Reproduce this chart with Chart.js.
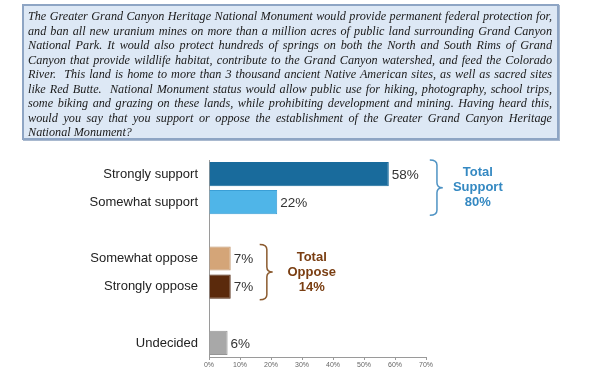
<!DOCTYPE html>
<html>
<head>
<meta charset="utf-8">
<script src="https://cdn.jsdelivr.net/npm/chart.js@4.4.1/dist/chart.umd.min.js"></script>
<style>
  html, body { margin: 0; padding: 0; background: #fff; width: 589px; height: 380px; overflow: hidden; }
  #wrap { position: relative; width: 589px; height: 380px; }
  #chart { position: absolute; left: 0; top: 0; }
  #question {
    position: absolute; left: 22px; top: 4px;
    background: #dde8f5; border: 2px solid #8ea5c4;
    box-shadow: 1px 1px 0 #a9b9cf;
    font-family: "Liberation Serif", "Times New Roman", serif; font-style: italic;
    font-size: 12.2px; line-height: 14.5px; color: #1a1a1a;
    padding: 3px 5px 0 4px; box-sizing: border-box; width: 537px; height: 136px;
  }
  #question div { white-space: nowrap; text-align: justify; text-align-last: justify; }
  #question div.last { text-align-last: left; }
</style>
</head>
<body>
<div id="wrap">
  <canvas id="chart" width="589" height="380"></canvas>
  <div id="question">
    <div>The Greater Grand Canyon Heritage National Monument would provide permanent federal protection for,</div>
    <div>and ban all new uranium mines on more than a million acres of public land surrounding Grand Canyon</div>
    <div>National Park. It would also protect hundreds of springs on both the North and South Rims of Grand</div>
    <div>Canyon that provide wildlife habitat, contribute to the Grand Canyon watershed, and feed the Colorado</div>
    <div>River.&nbsp; This land is home to more than 3 thousand ancient Native American sites, as well as sacred sites</div>
    <div>like Red Butte.&nbsp; National Monument status would allow public use for hiking, photography, school trips,</div>
    <div>some biking and grazing on these lands, while prohibiting development and mining. Having heard this,</div>
    <div>would you say that you support or oppose the establishment of the Greater Grand Canyon Heritage</div>
    <div class="last">National Monument?</div>
  </div>
</div>
<script>
const categories = ['Strongly support', 'Somewhat support', '', 'Somewhat oppose', 'Strongly oppose', '', 'Undecided'];
const values = [58, 22, null, 7, 7, null, 6];
const barColors = ['#196b9c', '#4fb5e8', null, '#d4a578', '#5b2a0c', null, '#a8a8a8'];
const barBorders = ['#196b9c', '#3a9fd6', null, '#c0926a', '#4a2008', null, '#959595'];
const xTicks = [0, 10, 20, 30, 40, 50, 60, 70];
const groupLabels = [
  { lines: ['Total', 'Support', '80%'], from: 0, to: 1, color: '#3589c2', braceColor: '#4f93c4', gap: 41, textOffset: 48 },
  { lines: ['Total', 'Oppose', '14%'], from: 3, to: 4, color: '#7a3e12', braceColor: '#8b5a2e', gap: 29, textOffset: 52 }
];

const FONT = '"Liberation Sans", Arial, sans-serif';

const valueLabels = {
  id: 'valueLabels',
  afterDatasetsDraw(chart) {
    const ctx = chart.ctx;
    const meta = chart.getDatasetMeta(0);
    ctx.save();
    ctx.font = '13.5px ' + FONT;
    ctx.fillStyle = '#333333';
    ctx.textBaseline = 'middle';
    ctx.textAlign = 'left';
    meta.data.forEach((bar, i) => {
      if (values[i] == null) return;
      ctx.fillText(values[i] + '%', bar.x + 3, bar.y + 1);
    });
    ctx.restore();
  }
};

function drawBrace(ctx, x, yTop, yBot, w) {
  const mid = (yTop + yBot) / 2;
  const xm = x + w * 0.55;
  const r = 5;
  ctx.beginPath();
  ctx.moveTo(x, yTop);
  ctx.quadraticCurveTo(xm, yTop, xm, yTop + r);
  ctx.lineTo(xm, mid - r);
  ctx.quadraticCurveTo(xm, mid, x + w, mid);
  ctx.quadraticCurveTo(xm, mid, xm, mid + r);
  ctx.lineTo(xm, yBot - r);
  ctx.quadraticCurveTo(xm, yBot, x, yBot);
  ctx.stroke();
}

const groupBraces = {
  id: 'groupBraces',
  afterDatasetsDraw(chart) {
    const ctx = chart.ctx;
    const meta = chart.getDatasetMeta(0);
    ctx.save();
    groupLabels.forEach(g => {
      const a = meta.data[g.from], b = meta.data[g.to];
      const yTop = a.y - a.height / 2 - 2;
      const yBot = b.y + b.height / 2 + 1;
      const xEnd = Math.max(a.x, b.x);
      const bx = xEnd + g.gap;
      ctx.strokeStyle = g.braceColor;
      ctx.lineWidth = 1.5;
      drawBrace(ctx, bx, yTop, yBot, 13);
      ctx.fillStyle = g.color;
      ctx.font = 'bold 13px ' + FONT;
      ctx.textAlign = 'center';
      ctx.textBaseline = 'middle';
      const mid = (yTop + yBot) / 2;
      const lh = 15;
      g.lines.forEach((t, k) => {
        ctx.fillText(t, bx + g.textOffset, mid + (k - 1) * lh);
      });
    });
    ctx.restore();
  }
};

new Chart(document.getElementById('chart'), {
  type: 'bar',
  data: {
    labels: categories,
    datasets: [{
      data: values,
      backgroundColor: barColors,
      borderColor: barBorders,
      borderWidth: 1,
      categoryPercentage: 1.0,
      barPercentage: 0.86
    }]
  },
  options: {
    indexAxis: 'y',
    responsive: false,
    animation: false,
    events: [],
    layout: { padding: { top: 160, right: 163, bottom: 0, left: 0 } },
    plugins: { legend: { display: false }, tooltip: { enabled: false } },
    scales: {
      x: {
        min: 0, max: 70,
        afterFit(scale) { scale.height = 23; },
        afterBuildTicks(scale) { scale.ticks = xTicks.map(v => ({ value: v })); },
        grid: { display: true, drawOnChartArea: false, drawTicks: true, tickLength: 3, color: '#9a9a9a' },
        border: { display: true, color: '#9a9a9a', width: 1 },
        ticks: {
          font: { family: FONT, size: 7 },
          color: '#666666',
          padding: 1,
          maxRotation: 0,
          callback: v => v + '%'
        }
      },
      y: {
        afterFit(scale) { scale.width = 209; },
        grid: { display: false, drawTicks: false },
        border: { display: true, color: '#9a9a9a', width: 1 },
        ticks: {
          font: { family: FONT, size: 13 },
          color: '#222222',
          padding: 11
        }
      }
    }
  },
  plugins: [valueLabels, groupBraces]
});
</script>
</body>
</html>
